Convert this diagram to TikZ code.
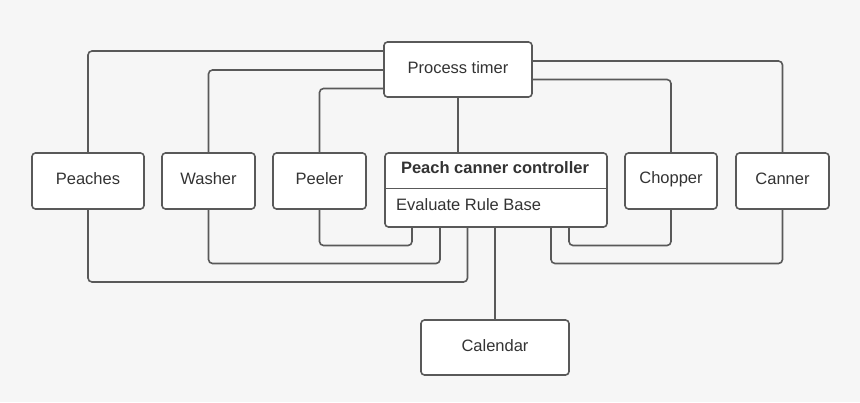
\documentclass[tikz,border=0pt]{standalone}
\usepackage{fontspec}
\setmainfont{Liberation Sans}
\begin{document}
\begin{tikzpicture}[x=1pt,y=-1pt,
  box/.style={draw=linegray, fill=white, line width=1.6pt, rounded corners=3.5pt, inner sep=0pt},
  conn/.style={draw=linegray, line width=1.6pt, rounded corners=4pt},
  lbl/.style={text=textgray, font=\fontsize{16.5}{19.5}\selectfont, inner sep=0pt}]
\definecolor{bggray}{HTML}{F6F6F6}
\definecolor{linegray}{HTML}{595959}
\definecolor{textgray}{HTML}{333333}
\fill[bggray] (0,0) rectangle (860,402);
\useasboundingbox (0,0) rectangle (860,402);

\node[box, minimum width=148pt, minimum height=55pt] (timer) at (458,69.5) {};
\node[lbl] (timertxt) at (458,67.5) {Process timer};

\node[box, minimum width=112pt, minimum height=56pt] (peaches) at (88,181) {};
\node[lbl] (peachestxt) at (88,179) {Peaches};
\node[box, minimum width=93pt, minimum height=56pt] (washer) at (208.5,181) {};
\node[lbl] (washertxt) at (208.5,179) {Washer};
\node[box, minimum width=93pt, minimum height=56pt] (peeler) at (319.5,181) {};
\node[lbl] (peelertxt) at (319.5,179) {Peeler};
\node[box, minimum width=92pt, minimum height=56pt] (chopper) at (671,181) {};
\node[lbl] (choppertxt) at (671,179) {Chopper};
\node[box, minimum width=93pt, minimum height=56pt] (canner) at (782.5,181) {};
\node[lbl] (cannertxt) at (782.5,179) {Canner};

\node[box, minimum width=222pt, minimum height=74pt] (ctrl) at (496,190) {};
\draw[draw=linegray, line width=1.6pt] (ctrl.west |- 0,188.5) -- (ctrl.east |- 0,188.5);
\node[lbl, font=\fontsize{16.5}{19.5}\selectfont\bfseries] (ctrltitle) at (495,168) {Peach canner controller};
\node[lbl, anchor=west] (ctrlbody) at (396,205) {Evaluate Rule Base};

\node[box, minimum width=148pt, minimum height=55pt] (calendar) at (495,347.5) {};
\node[lbl] (calendartxt) at (495,346) {Calendar};

% top connectors
\draw[conn] (timer.west |- 0,51) -| (peaches.north);
\draw[conn] (timer.west |- 0,70) -| (washer.north);
\draw[conn] (timer.west |- 0,88.5) -| (peeler.north);
\draw[conn] (timer.south) -- (timer.south |- ctrl.north);
\draw[conn] (timer.east |- 0,61) -| (canner.north);
\draw[conn] (timer.east |- 0,79.5) -| (chopper.north);

% bottom connectors
\draw[conn] (peeler.south) |- (412,245.5) -- (ctrl.south -| 412,0);
\draw[conn] (washer.south) |- (440,263.5) -- (ctrl.south -| 440,0);
\draw[conn] (peaches.south) |- (467.5,282) -- (ctrl.south -| 467.5,0);
\draw[conn] (chopper.south) |- (569,245.5) -- (ctrl.south -| 569,0);
\draw[conn] (canner.south) |- (551,263.5) -- (ctrl.south -| 551,0);
\draw[conn] (calendar.north) -- (calendar.north |- ctrl.south);
\end{tikzpicture}
\end{document}
